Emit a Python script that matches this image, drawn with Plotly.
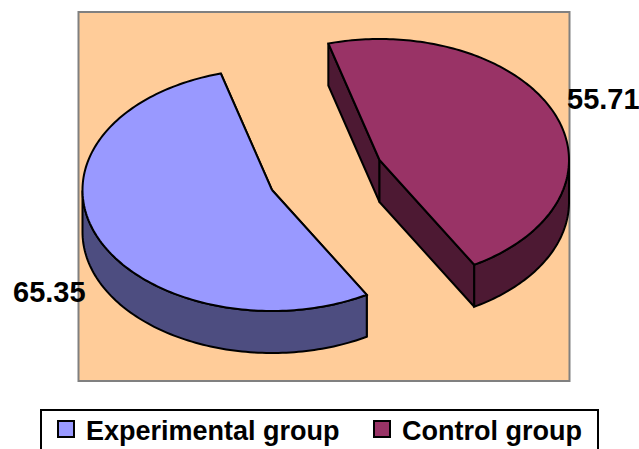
import numpy as np
import plotly.graph_objects as go

# Data
categories = ["Experimental group", "Control group"]
values = [65.35, 55.71]

# Style and pie geometry (pixel-like units on the axes)
top_colors = ["#9999FF", "#993366"]
side_colors = ["#4D4D80", "#4D1933"]
centers = [(272, 190), (379.5, 160)]
RX, RY, DEPTH = 189.5, 121, 42
ROTATION = 150
FONT = "Liberation Sans"
W, H = 639, 449
PANEL = (78.5, 12, 569.5, 381)
LEGEND_BOX = (41, 410, 598, 452)
LEGEND_IDS = ["legend", "legend2"]
LEGEND_LEFT = [46, 362]
LEGEND_TOP = 405


def point(center, deg, drop=0):
    t = np.radians(deg)
    return center[0] + RX * np.sin(t), center[1] - RY * np.cos(t) + drop


fig = go.Figure()


def poly(pts, color):
    xs = [p[0] for p in pts] + [pts[0][0]]
    ys = [p[1] for p in pts] + [pts[0][1]]
    fig.add_trace(go.Scatter(
        x=xs, y=ys, mode="lines", fill="toself", fillcolor=color,
        line=dict(color="black", width=2, simplify=False),
        showlegend=False, hoverinfo="skip", cliponaxis=False))


total = sum(values)
start = ROTATION
for i, v in enumerate(values):
    end = start + 360 * v / total
    c = centers[i]
    arc = np.linspace(start, end, 160)
    # cut faces
    poly([c, point(c, start), point(c, start, DEPTH), (c[0], c[1] + DEPTH)], side_colors[i])
    poly([c, point(c, end), point(c, end, DEPTH), (c[0], c[1] + DEPTH)], side_colors[i])
    # outer wall: only the part of the rim that faces the viewer
    vis = [a for a in arc if 90 <= a % 360 <= 270]
    if vis:
        poly([point(c, a) for a in vis] + [point(c, a, DEPTH) for a in vis[::-1]], side_colors[i])
    # top face
    poly([c] + [point(c, a) for a in arc], top_colors[i])
    start = end

# Legend entries
for name, col, lid in zip(categories, top_colors, LEGEND_IDS):
    fig.add_trace(go.Scatter(
        x=[None], y=[None], mode="markers", name=name, legend=lid, showlegend=True,
        marker=dict(symbol="square", size=17, color=col, line=dict(color="black", width=2))))

# Value labels
label_pos = [(49, 292), (603, 99)]
for v, (x, y) in zip(values, label_pos):
    fig.add_annotation(x=x, y=y, xref="x", yref="y", xanchor="center", yanchor="middle",
                       text=f"{v:.2f}", showarrow=False,
                       font=dict(family=FONT, size=29, color="black", weight="bold"))

# Orange plot panel with its grey frame, and the legend frame
fig.add_shape(type="rect", x0=PANEL[0], y0=PANEL[1], x1=PANEL[2], y1=PANEL[3], layer="below",
              fillcolor="#FFCC99", line=dict(color="#808080", width=2))
fig.add_shape(type="rect", x0=LEGEND_BOX[0], y0=LEGEND_BOX[1], x1=LEGEND_BOX[2], y1=LEGEND_BOX[3],
              layer="below", fillcolor="white", line=dict(color="black", width=2))


def legend_at(left):
    return dict(orientation="h", x=left / W, xanchor="left",
                y=1 - LEGEND_TOP / H, yanchor="top", bgcolor="rgba(0,0,0,0)", borderwidth=0,
                font=dict(family=FONT, size=27, color="black", weight="bold"),
                itemsizing="trace", itemwidth=30)


axis = dict(visible=False, fixedrange=True)
fig.update_layout(
    width=W, height=H,
    margin=dict(l=0, r=0, t=0, b=0, pad=0, autoexpand=False),
    paper_bgcolor="white", plot_bgcolor="white",
    xaxis=dict(range=[0, W], **axis),
    yaxis=dict(range=[H, 0], **axis),
    showlegend=True,
    legend=legend_at(LEGEND_LEFT[0]),
    legend2=legend_at(LEGEND_LEFT[1]),
)
fig.write_html("out.html", config=dict(displayModeBar=False),
               post_script="document.body.style.margin='0';document.body.style.overflow='hidden';")
